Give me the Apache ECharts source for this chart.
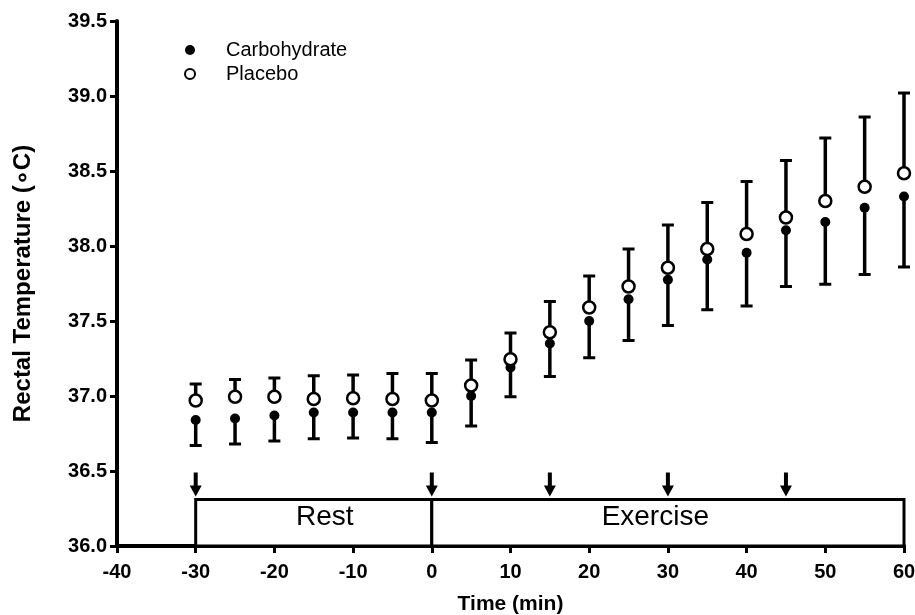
<!DOCTYPE html>
<html>
<head>
<meta charset="utf-8">
<script src="https://cdn.jsdelivr.net/npm/echarts@6/dist/echarts.min.js"></script>
<style>html,body{margin:0;padding:0;background:#fff}#c{width:915px;height:615px}</style>
</head>
<body>
<div id="c"></div>
<script>
var times = [-30,-25,-20,-15,-10,-5,0,5,10,15,20,25,30,35,40,45,50,55,60];
var carbMean = [36.84,36.85,36.87,36.89,36.89,36.89,36.89,37.00,37.19,37.35,37.50,37.645,37.775,37.91,37.955,38.105,38.16,38.255,38.33];
var carbLow = [36.67,36.68,36.70,36.715,36.72,36.715,36.69,36.80,36.995,37.13,37.255,37.37,37.47,37.575,37.60,37.73,37.745,37.81,37.86];
var placMean = [36.97,36.995,36.995,36.98,36.985,36.98,36.97,37.07,37.245,37.425,37.59,37.73,37.855,37.98,38.08,38.19,38.30,38.395,38.485];
var placHigh = [37.08,37.11,37.12,37.135,37.14,37.15,37.15,37.24,37.42,37.63,37.80,37.98,38.14,38.29,38.43,38.57,38.72,38.86,39.02];
var phaseNames = ['Rest','Exercise'];
var phaseStart = [-30,0];
var phaseEnd = [0,60];
var phaseLabelX = [-13.6,28.4];
var phaseTop = 36.31;
var arrowTimes = [-30,0,15,30,45];
var arrowFrom = 36.49;
var arrowTo = 36.33;
var yTicks = ['36.0','36.5','37.0','37.5','38.0','38.5','39.0','39.5'];

var FONT = 'Arial, "Liberation Sans", sans-serif';

function zip3(a,b,c){ return a.map(function(v,i){return [v,b[i],c[i]];}); }
function zip2(a,b){ return a.map(function(v,i){return [v,b[i]];}); }

function errorBar(params, api){
  var x = api.value(0), m = api.value(1), e = api.value(2);
  var p0 = api.coord([x,m]), p1 = api.coord([x,e]);
  var hw = 6;
  return {type:'group', children:[
    {type:'line', shape:{x1:p0[0],y1:p0[1],x2:p1[0],y2:p1[1]}, style:{stroke:'#000',lineWidth:3.5}},
    {type:'line', shape:{x1:p1[0]-hw,y1:p1[1],x2:p1[0]+hw,y2:p1[1]}, style:{stroke:'#000',lineWidth:3}}
  ]};
}

var phaseData = phaseNames.map(function(n,i){return [phaseStart[i],phaseEnd[i],phaseLabelX[i]];});

var chart = echarts.init(document.getElementById('c'));
chart.setOption({
  animation:false,
  backgroundColor:'#fff',
  grid:{left:117,right:11,top:21,bottom:69,containLabel:false,outerBoundsMode:'none'},
  legend:{
    orient:'vertical', left:179, top:35, itemWidth:62, itemHeight:10, itemGap:4,
    icon:'circle',
    textStyle:{fontFamily:FONT,fontSize:20,color:'#000'},
    data:['Carbohydrate','Placebo']
  },
  xAxis:{
    type:'value', min:-40, max:60, interval:10,
    name:'Time (min)', nameLocation:'middle', nameGap:48,
    nameTextStyle:{fontFamily:FONT,fontSize:21,fontWeight:'bold',color:'#000'},
    axisLine:{lineStyle:{color:'#000',width:4}},
    axisTick:{length:7,lineStyle:{color:'#000',width:3}},
    axisLabel:{fontFamily:FONT,fontSize:20,fontWeight:'bold',color:'#000',margin:16},
    splitLine:{show:false}
  },
  yAxis:{
    type:'value', min:36, max:39.5, interval:0.5,
    name:'Rectal Temperature (\u2218C)', nameLocation:'middle', nameGap:82,
    nameTextStyle:{fontFamily:FONT,fontSize:24,fontWeight:'bold',color:'#000'},
    axisLine:{show:true,onZero:false,lineStyle:{color:'#000',width:4}},
    axisTick:{show:true,length:7,lineStyle:{color:'#000',width:3}},
    axisLabel:{fontFamily:FONT,fontSize:20,fontWeight:'bold',color:'#000',margin:10,
      formatter:function(v){ var i=Math.round((v-36)/0.5); return yTicks[i]; }},
    splitLine:{show:false}
  },
  series:[
    {type:'custom', name:'carbErr', renderItem:errorBar, data:zip3(times,carbMean,carbLow), z:2, silent:true, clip:false},
    {type:'custom', name:'placErr', renderItem:errorBar, data:zip3(times,placMean,placHigh), z:2, silent:true, clip:false},
    {type:'scatter', name:'Carbohydrate', symbol:'circle', symbolSize:10, data:zip2(times,carbMean),
      itemStyle:{color:'#000',opacity:1}, z:4},
    {type:'scatter', name:'Placebo', symbol:'circle', symbolSize:12, data:zip2(times,placMean),
      itemStyle:{color:'#fff',borderColor:'#000',borderWidth:2.5,opacity:1}, z:5},
    {type:'custom', name:'phases', silent:true, clip:false, z:1,
      data:phaseData,
      renderItem:function(params, api){
        var a = api.coord([api.value(0), phaseTop]);
        var b = api.coord([api.value(1), 36]);
        var lx = api.coord([api.value(2), 36])[0];
        var name = phaseNames[params.dataIndex];
        return {type:'group', children:[
          {type:'rect', shape:{x:a[0],y:a[1],width:b[0]-a[0],height:b[1]-a[1]},
            style:{fill:'#fff',stroke:'#000',lineWidth:3}},
          {type:'text', style:{text:name, x:lx, y:(a[1]+b[1])/2-5,
            align:'center', verticalAlign:'middle', font:'28px '+FONT, fill:'#000'}}
        ]};
      }
    },
    {type:'custom', name:'arrows', silent:true, clip:false, z:3,
      data:arrowTimes.map(function(t){return [t];}),
      renderItem:function(params, api){
        var t = api.value(0);
        var p0 = api.coord([t, arrowFrom]), p1 = api.coord([t, arrowTo]);
        var hh = 11, hw = 6;
        return {type:'group', children:[
          {type:'line', shape:{x1:p0[0],y1:p0[1],x2:p1[0],y2:p1[1]-hh+1}, style:{stroke:'#000',lineWidth:4}},
          {type:'polygon', shape:{points:[[p1[0]-hw,p1[1]-hh],[p1[0]+hw,p1[1]-hh],[p1[0],p1[1]]]}, style:{fill:'#000'}}
        ]};
      }
    }
  ]
});
</script>
</body>
</html>
